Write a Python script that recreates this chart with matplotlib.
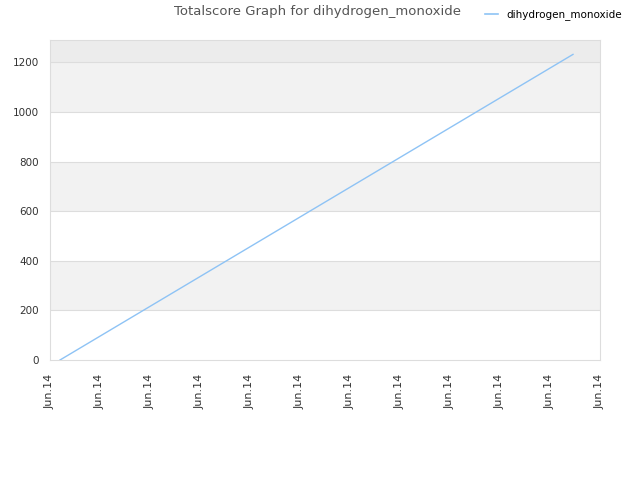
import matplotlib
matplotlib.use("Agg")
import matplotlib.pyplot as plt
from matplotlib.lines import Line2D

series_name = "dihydrogen_monoxide"
x_vals = [0.2, 10.46]
y_vals = [0, 1232]
x_tick_labels = ["Jun.14"] * 12
y_ticks = [0, 200, 400, 600, 800, 1000, 1200]

fig = plt.figure(figsize=(6.4, 4.8), dpi=100)
ax = fig.add_axes([50/640, 1 - 360/480, 550/640, 320/480])
ax.set_xlim(0, 11)
ax.set_ylim(0, 1290)

# alternating bands
bands = [(200, 400), (600, 800), (1000, 1200)]
for lo, hi in bands:
    ax.axhspan(lo, hi, color="#f2f2f2", zorder=0, lw=0)
ax.axhspan(1200, 1290, color="#ececec", zorder=0, lw=0)
for yt in y_ticks[1:]:
    ax.axhline(yt, color="#dddddd", lw=0.8, zorder=1)

ax.plot(x_vals, y_vals, color="#8ec3f5", lw=1.0, zorder=3)

ax.set_xticks(range(12))
ax.set_xticklabels(x_tick_labels, rotation=90, fontsize=8, color="#333333")
ax.set_yticks(y_ticks)
ax.set_yticklabels([str(v) for v in y_ticks], fontsize=7.5, color="#333333")
ax.tick_params(axis="x", length=0, pad=10)
ax.tick_params(axis="y", length=0, pad=8)
for s in ax.spines.values():
    s.set_color("#dddddd")
    s.set_linewidth(0.8)

fig.text(318/640, 1 - 12/480, "Totalscore Graph for dihydrogen_monoxide",
         ha="center", va="center", fontsize=9.5, color="#555555")
fig.legend(handles=[Line2D([], [], color="#8ec3f5", lw=1.2)], labels=[series_name],
           loc="center left", bbox_to_anchor=(476/640, 1 - 15/480), frameon=False,
           fontsize=7.5, handlelength=1.2, handletextpad=0.8)

fig.savefig("out.png", dpi=100)
